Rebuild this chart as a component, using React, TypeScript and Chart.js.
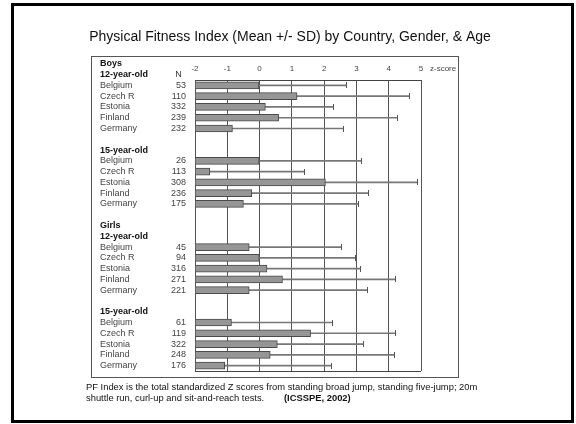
import React, { useEffect, useRef } from 'react';
import { Chart, registerables } from 'chart.js';

Chart.register(...registerables);

const FONT = '"Liberation Sans", Arial, sans-serif';

const titleText = 'Physical Fitness Index (Mean +/- SD) by Country, Gender, & Age';
const footerLine1 = 'PF Index is the total standardized Z scores from standing broad jump, standing five-jump; 20m';
const footerLine2 = 'shuttle run, curl-up and sit-and-reach tests.';
const footerSource = '(ICSSPE, 2002)';

const countries = ['Belgium', 'Czech R', 'Estonia', 'Finland', 'Germany'];
const genders = ['Boys', 'Girls'];
const ages = ['12-year-old', '15-year-old'];
const nHeader = 'N';
const axisUnit = 'z-score';
const xMin = -2;
const xMax = 5;

const boys12N = [53, 110, 332, 239, 232];
const boys15N = [26, 113, 308, 236, 175];
const girls12N = [45, 94, 316, 271, 221];
const girls15N = [61, 119, 322, 248, 176];

const boys12Mean = [-0.02, 1.16, 0.18, 0.59, -0.84];
const boys15Mean = [0.0, -1.54, 2.04, -0.24, -0.5];
const girls12Mean = [-0.32, -0.01, 0.23, 0.71, -0.32];
const girls15Mean = [-0.87, 1.58, 0.55, 0.33, -1.08];

const boys12SD = [2.71, 3.49, 2.1, 3.67, 3.44];
const boys15SD = [3.16, 2.94, 2.86, 3.61, 3.55];
const girls12SD = [2.86, 2.99, 2.89, 3.5, 3.66];
const girls15SD = [3.13, 2.64, 2.67, 3.85, 3.31];

type Row = { kind: 'gender' | 'age' | 'country' | 'blank'; text: string; n?: number; mean?: number; sd?: number };

const groups = [
  { gender: genders[0], age: ages[0], n: boys12N, mean: boys12Mean, sd: boys12SD },
  { gender: genders[0], age: ages[1], n: boys15N, mean: boys15Mean, sd: boys15SD },
  { gender: genders[1], age: ages[0], n: girls12N, mean: girls12Mean, sd: girls12SD },
  { gender: genders[1], age: ages[1], n: girls15N, mean: girls15Mean, sd: girls15SD },
];

const rows: Row[] = [];
groups.forEach((g, gi) => {
  if (gi > 0) rows.push({ kind: 'blank', text: '' });
  if (gi === 0 || groups[gi - 1].gender !== g.gender) rows.push({ kind: 'gender', text: g.gender });
  rows.push({ kind: 'age', text: g.age });
  countries.forEach((c, ci) => rows.push({ kind: 'country', text: c, n: g.n[ci], mean: g.mean[ci], sd: g.sd[ci] }));
});

const firstDataRow = rows.findIndex((r) => r.kind === 'country');

const decorPlugin = {
  id: 'decor',
  afterDraw(chart: any) {
    const ctx = chart.ctx as CanvasRenderingContext2D;
    const { chartArea } = chart;
    const xs = chart.scales.x;
    const ys = chart.scales.y;
    ctx.save();

    // slide border
    ctx.strokeStyle = '#000';
    ctx.lineWidth = 3;
    ctx.strokeRect(12.5, 4.5, 560, 417);

    // figure frame
    ctx.strokeStyle = '#555';
    ctx.lineWidth = 1;
    ctx.strokeRect(91.5, 56.5, 367, 321);

    // plot bottom border
    ctx.strokeStyle = '#444';
    ctx.beginPath();
    ctx.moveTo(chartArea.left, Math.round(chartArea.bottom) + 0.5);
    ctx.lineTo(chartArea.right, Math.round(chartArea.bottom) + 0.5);
    ctx.stroke();

    // title
    ctx.fillStyle = '#111';
    ctx.font = `14px ${FONT}`;
    ctx.textAlign = 'center';
    ctx.textBaseline = 'middle';
    ctx.fillText(titleText, 290, 37);

    // row labels
    ctx.textBaseline = 'middle';
    rows.forEach((r, i) => {
      if (r.kind === 'blank') return;
      const y = ys.getPixelForValue(i);
      if (r.kind === 'country') {
        ctx.font = `9px ${FONT}`;
        ctx.fillStyle = '#444';
        ctx.textAlign = 'left';
        ctx.fillText(r.text, 100, y);
        ctx.textAlign = 'right';
        ctx.fillText(String(r.n), 186, y);
      } else {
        ctx.font = `bold 9px ${FONT}`;
        ctx.fillStyle = '#111';
        ctx.textAlign = 'left';
        ctx.fillText(r.text, 100, y);
      }
    });
    const ageRow = rows.findIndex((r) => r.kind === 'age');
    ctx.font = `9px ${FONT}`;
    ctx.fillStyle = '#333';
    ctx.textAlign = 'center';
    ctx.fillText(nHeader, 178.5, ys.getPixelForValue(ageRow));

    // z-score unit
    ctx.font = `8px ${FONT}`;
    ctx.fillStyle = '#444';
    ctx.textAlign = 'left';
    ctx.fillText(axisUnit, xs.getPixelForValue(xMax) + 9, chartArea.top - 11);

    // footer
    ctx.fillStyle = '#111';
    ctx.font = `9.4px ${FONT}`;
    ctx.textAlign = 'left';
    ctx.fillText(footerLine1, 86, 387);
    ctx.fillText(footerLine2, 86, 398);
    ctx.font = `bold 9.4px ${FONT}`;
    ctx.fillText(footerSource, 284, 398);

    ctx.restore();
  },
};

function makeCap(): HTMLCanvasElement {
  const c = document.createElement('canvas');
  c.width = 1;
  c.height = 6;
  const g = c.getContext('2d') as CanvasRenderingContext2D;
  g.fillStyle = '#555';
  g.fillRect(0, 0, 1, 6);
  return c;
}

export default function App() {
  const ref = useRef<HTMLCanvasElement>(null);
  useEffect(() => {
    if (!ref.current) return;
    Chart.defaults.font.family = FONT;
    const cap = makeCap();
    const dataRows = rows.map((r, i) => ({ r, i })).filter((o) => o.r.kind === 'country');
    const chart = new Chart(ref.current, {
      type: 'bar',
      data: {
        datasets: [
          {
            type: 'bar',
            data: dataRows.map((o) => ({ x: [xMin, o.r.mean], y: o.i })) as any,
            backgroundColor: '#969696',
            borderColor: '#4a4a4a',
            borderWidth: 1,
            borderSkipped: false,
            barThickness: 7,
            grouped: false,
            order: 1,
          },
          {
            type: 'bar',
            data: dataRows.map((o) => ({ x: [o.r.mean, (o.r.mean as number) + (o.r.sd as number)], y: o.i })) as any,
            backgroundColor: '#777',
            borderWidth: 0,
            barThickness: 1,
            grouped: false,
            order: 2,
          },
          {
            type: 'scatter',
            data: dataRows.map((o) => ({ x: (o.r.mean as number) + (o.r.sd as number), y: o.i })) as any,
            pointStyle: cap,
            radius: 3,
            order: 0,
          } as any,
        ],
      },
      options: {
        indexAxis: 'y',
        responsive: false,
        animation: false,
        events: [],
        layout: { padding: { left: 195, right: 155, top: 60, bottom: 53 } },
        plugins: { legend: { display: false }, tooltip: { enabled: false }, title: { display: false } },
        scales: {
          x: {
            type: 'linear',
            position: 'top',
            min: xMin,
            max: xMax,
            afterFit: (s: any) => {
              s.height = 20;
            },
            ticks: {
              stepSize: 1,
              color: '#444',
              font: { size: 8, family: FONT },
              padding: 6,
              minRotation: 0,
              maxRotation: 0,
              autoSkip: false,
            },
            grid: { color: '#555', lineWidth: 1, drawTicks: false },
            border: { display: true, color: '#444', width: 1 },
          },
          y: {
            type: 'linear',
            offset: false,
            grace: 0,
            min: firstDataRow - 0.5,
            max: rows.length - 0.5,
            reverse: true,
            display: false,
          },
        },
      } as any,
      plugins: [decorPlugin],
    });
    return () => chart.destroy();
  }, []);
  return (
    <div style={{ position: 'fixed', left: 0, top: 0, width: 576, height: 424, background: '#fff' }}>
      <canvas ref={ref} width={576} height={424} />
    </div>
  );
}
